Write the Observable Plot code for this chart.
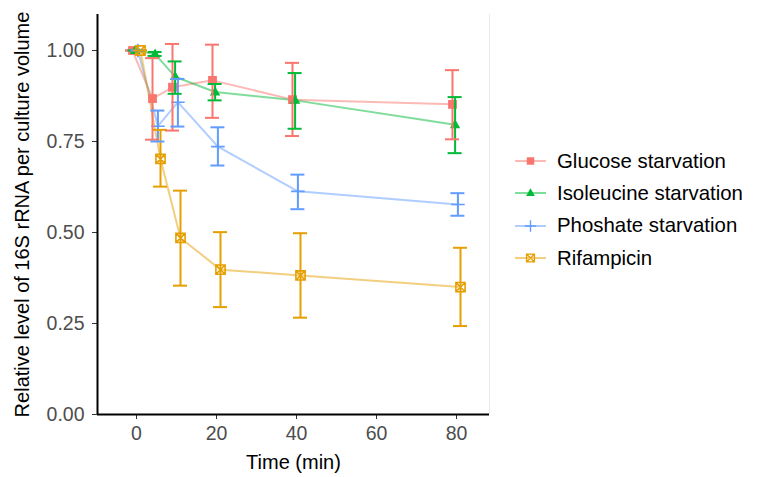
<!DOCTYPE html>
<html><head><meta charset="utf-8">
<script src="https://cdn.jsdelivr.net/npm/d3@7"></script>
<script src="https://cdn.jsdelivr.net/npm/@observablehq/plot@0.6"></script>
<style>
body{margin:0;background:#fff;}
#wrap{position:relative;width:758px;height:477px;font-family:"Liberation Sans",Arial,Helvetica,sans-serif;}
#legend{position:absolute;left:514px;top:145px;}
.row{display:flex;align-items:center;height:32.3px;font-size:20.4px;color:#000;white-space:nowrap;}
.row svg{margin-right:10px;display:block}
</style></head><body><div id="wrap"></div>
<script>
// ---- data ----
const times = [0, 5, 10, 20, 40, 80];
const seriesNames = ["Glucose starvation", "Isoleucine starvation", "Phoshate starvation", "Rifampicin"];
const glucoseMean = [1.00, 0.868, 0.899, 0.918, 0.865, 0.852];
const glucoseLo   = [1.00, 0.755, 0.780, 0.815, 0.765, 0.756];
const glucoseHi   = [1.00, 0.979, 1.018, 1.016, 0.966, 0.946];
const isoMean = [1.00, 0.990, 0.928, 0.886, 0.863, 0.796];
const isoLo   = [1.00, 0.985, 0.881, 0.863, 0.785, 0.718];
const isoHi   = [1.00, 0.996, 0.970, 0.908, 0.938, 0.872];
const phosMean = [1.00, 0.792, 0.858, 0.736, 0.613, 0.577];
const phosLo   = [1.00, 0.750, 0.791, 0.684, 0.564, 0.546];
const phosHi   = [1.00, 0.835, 0.922, 0.789, 0.659, 0.608];
const rifMean = [1.00, 0.702, 0.485, 0.398, 0.382, 0.350];
const rifLo   = [1.00, 0.626, 0.354, 0.295, 0.266, 0.243];
const rifHi   = [1.00, 0.782, 0.615, 0.501, 0.498, 0.458];
const xTicks = [0, 20, 40, 60, 80];
const yTicks = [0, 0.25, 0.5, 0.75, 1];

// ---- styling ----
const colors = ["#F8766D", "#00BA38", "#619CFF", "#E69F00"];
const dodge = [-1.0, -0.35, 0.35, 1.0];
const capHalf = 1.75;

const symSquare = {draw(c){const h=4.4; c.moveTo(-h,-h); c.lineTo(h,-h); c.lineTo(h,h); c.lineTo(-h,h); c.closePath();}};
const symTriangle = {draw(c){c.moveTo(0,-5.6); c.lineTo(5.2,3.4); c.lineTo(-5.2,3.4); c.closePath();}};
const symPlus = {draw(c){const h=6.8; c.moveTo(-h,0); c.lineTo(h,0); c.moveTo(0,-h); c.lineTo(0,h);}};
const symSqX = {draw(c){const h=4.6; c.moveTo(-h,-h); c.lineTo(h,-h); c.lineTo(h,h); c.lineTo(-h,h); c.closePath(); c.moveTo(-h,-h); c.lineTo(h,h); c.moveTo(h,-h); c.lineTo(-h,h);}};
const symbols = [symSquare, symTriangle, symPlus, symSqX];
const filled = [true, true, false, false];

const allMean = [glucoseMean, isoMean, phosMean, rifMean];
const allLo = [glucoseLo, isoLo, phosLo, rifLo];
const allHi = [glucoseHi, isoHi, phosHi, rifHi];
const rows = [];
seriesNames.forEach((s, k) => times.forEach((t, i) => rows.push({
  series: s, k, time: t, x: t + dodge[k], mean: allMean[k][i], lo: allLo[k][i], hi: allHi[k][i]
})));

const font = '"Liberation Sans", Arial, Helvetica, sans-serif';
const dotMarks = seriesNames.map((s, k) => Plot.dot(rows.filter(d => d.k === k), {
  x: "x", y: "mean", symbol: () => symbols[k], r: 4,
  ...(filled[k] ? {fill: colors[k], stroke: "none"} : {fill: "none", stroke: colors[k], strokeWidth: 1.6})
}));

const chart = Plot.plot({
  width: 758, height: 477,
  marginLeft: 97, marginRight: 269, marginTop: 14, marginBottom: 63,
  style: {fontFamily: font, fontSize: "19.5px", background: "#fff", color: "#4d4d4d"},
  x: {domain: [-9.75, 88.25]},
  y: {domain: [0, 1.0989]},
  color: {domain: seriesNames, range: colors},
  symbol: {type: "identity"},
  marks: [
    Plot.ruleX([88.25], {stroke: "#e8e8e8", strokeWidth: 1}),
    Plot.axisY({ticks: yTicks, tickFormat: d3.format(".2f"), tickSize: 5, tickPadding: 8, stroke: "#333", label: null, fill: "#4d4d4d"}),
    Plot.axisX({ticks: xTicks, tickSize: 5, tickPadding: 7, stroke: "#333", label: null, fill: "#4d4d4d"}),
    Plot.line(rows, {x: "x", y: "mean", z: "series", stroke: "series", strokeOpacity: 0.5, strokeWidth: 2}),
    ...dotMarks,
    Plot.ruleX(rows, {x: "x", y1: "lo", y2: "hi", stroke: "series", strokeWidth: 2}),
    Plot.ruleY(rows, {y: "hi", x1: d => d.x - capHalf, x2: d => d.x + capHalf, stroke: "series", strokeWidth: 2}),
    Plot.ruleY(rows, {y: "lo", x1: d => d.x - capHalf, x2: d => d.x + capHalf, stroke: "series", strokeWidth: 2}),
    Plot.ruleX([-9.75], {stroke: "#000", strokeWidth: 2}),
    Plot.ruleY([0], {stroke: "#000", strokeWidth: 2}),
    Plot.text(["Time (min)"], {frameAnchor: "bottom", dy: 48, fill: "#000", fontSize: 20, lineAnchor: "middle", textAnchor: "middle"}),
    Plot.text(["Relative level of 16S rRNA per culture volume"], {frameAnchor: "left", dx: -75, rotate: -90, fill: "#000", fontSize: 20, lineAnchor: "middle", textAnchor: "middle"})
  ]
});
const wrap = document.getElementById("wrap");
wrap.appendChild(chart);

// legend
const legend = document.createElement("div");
legend.id = "legend";
seriesNames.forEach((s, k) => {
  const row = document.createElement("div");
  row.className = "row";
  const svg = d3.create("svg").attr("width", 33).attr("height", 20);
  svg.append("line").attr("x1", 1).attr("x2", 32).attr("y1", 10).attr("y2", 10)
    .attr("stroke", colors[k]).attr("stroke-opacity", 0.5).attr("stroke-width", 2);
  const p = d3.path(); symbols[k].draw(p);
  svg.append("path").attr("d", p.toString()).attr("transform", "translate(16.5,10) scale(0.85)")
    .attr("fill", filled[k] ? colors[k] : "none").attr("stroke", filled[k] ? "none" : colors[k]).attr("stroke-width", 1.6);
  row.appendChild(svg.node());
  const span = document.createElement("span");
  span.textContent = s;
  row.appendChild(span);
  legend.appendChild(row);
});
wrap.appendChild(legend);
</script></body></html>
